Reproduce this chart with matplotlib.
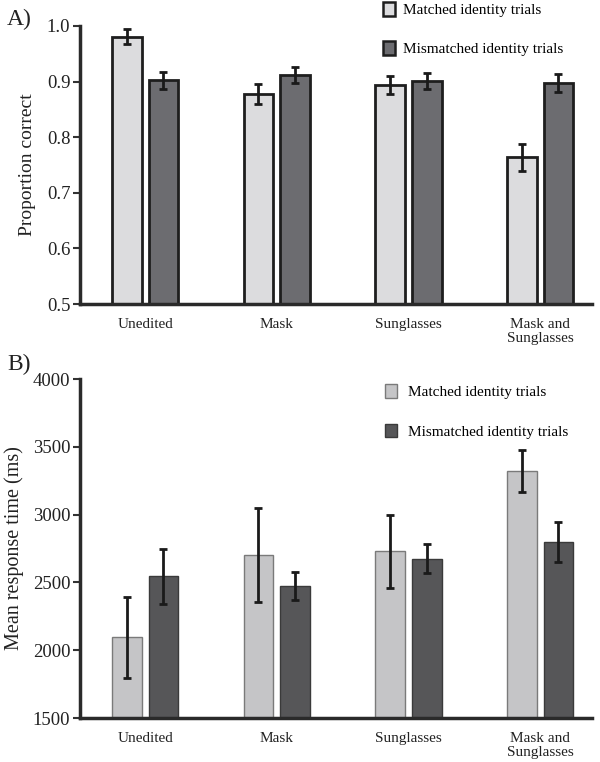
import matplotlib
matplotlib.use("Agg")
import matplotlib.pyplot as plt
from matplotlib.patches import Patch
import numpy as np

plt.rcParams['font.family'] = ['Liberation Serif', 'DejaVu Serif']

categories = ["Unedited", "Mask", "Sunglasses", "Mask and\nSunglasses"]
series_names = ["Matched identity trials", "Mismatched identity trials"]

acc_matched = [0.981, 0.878, 0.894, 0.764]
acc_matched_err = [0.014, 0.018, 0.016, 0.024]
acc_mismatched = [0.902, 0.912, 0.901, 0.897]
acc_mismatched_err = [0.015, 0.015, 0.015, 0.016]

rt_matched = [2094, 2702, 2729, 3325]
rt_matched_err = [298, 348, 270, 155]
rt_mismatched = [2544, 2473, 2675, 2798]
rt_mismatched_err = [200, 102, 107, 145]

acc_ticks = [0.5, 0.6, 0.7, 0.8, 0.9, 1.0]
rt_ticks = [1500, 2000, 2500, 3000, 3500, 4000]

fig = plt.figure(figsize=(6.0, 7.62), dpi=100)
axA = fig.add_axes([0.1333, 0.601, 0.8537, 0.3649])
axB = fig.add_axes([0.1333, 0.0577, 0.8537, 0.4449])

x = np.arange(len(categories))
w = 0.225
off = 0.139

def style(ax, ticks, ylim, fmt):
    ax.set_xlim(-0.494, 3.395)
    ax.set_ylim(*ylim)
    ax.set_yticks(ticks)
    ax.set_yticklabels([fmt(t) for t in ticks], fontsize=13.5, color='#222222')
    ax.set_xticks(x)
    ax.set_xticklabels(categories, fontsize=11, linespacing=1.15, color='#222222')
    ax.tick_params(axis='x', length=0, pad=10)
    ax.tick_params(axis='y', length=5, width=1.5, color='#333333', pad=2)
    for s in ['top', 'right']:
        ax.spines[s].set_visible(False)
    for s in ['left', 'bottom']:
        ax.spines[s].set_linewidth(2.5)
        ax.spines[s].set_color('#2a2a2a')

# Panel A
ekw = dict(ecolor='#1a1a1a', elinewidth=2, capsize=3, capthick=2)
axA.bar(x - off, acc_matched, w, bottom=0, color='#dcdcde', edgecolor='#1e1e1e', linewidth=2,
        yerr=acc_matched_err, error_kw=ekw, zorder=2)
axA.bar(x + off, acc_mismatched, w, bottom=0, color='#6c6c70', edgecolor='#1e1e1e', linewidth=2,
        yerr=acc_mismatched_err, error_kw=ekw, zorder=2)
style(axA, acc_ticks, (0.5, 1.0), lambda t: f"{t:.1f}")
axA.set_ylabel("Proportion correct", fontsize=14, labelpad=8, color='#222222')
hA = [Patch(facecolor='#dcdcde', edgecolor='#1e1e1e', linewidth=1.8),
      Patch(facecolor='#6c6c70', edgecolor='#1e1e1e', linewidth=1.8)]
fig.legend(hA, series_names, loc='upper left', bbox_to_anchor=(0.615, 1.015), frameon=False,
           fontsize=11, labelspacing=1.55, handlelength=0.8, handleheight=1.0, handletextpad=0.5)
fig.text(0.012, 0.989, "A)", fontsize=17, va='top', ha='left', color='#222222')

# Panel B
ekwB = dict(ecolor='#1a1a1a', elinewidth=2, capsize=3, capthick=2)
axB.bar(x - off, rt_matched, w, bottom=0, color='#c5c5c7', edgecolor='#7a7a7a', linewidth=1,
        yerr=rt_matched_err, error_kw=ekwB, zorder=2)
axB.bar(x + off, rt_mismatched, w, bottom=0, color='#565658', edgecolor='#3a3a3a', linewidth=1,
        yerr=rt_mismatched_err, error_kw=ekwB, zorder=2)
style(axB, rt_ticks, (1500, 4000), lambda t: f"{t:d}")
axB.set_ylabel("Mean response time (ms)", fontsize=14.5, labelpad=6, color='#222222')
hB = [Patch(facecolor='#c5c5c7', edgecolor='#7a7a7a', linewidth=1),
      Patch(facecolor='#565658', edgecolor='#3a3a3a', linewidth=1)]
fig.legend(hB, series_names, loc='upper left', bbox_to_anchor=(0.618, 0.514), frameon=False,
           fontsize=11, labelspacing=1.6, handlelength=0.8, handleheight=1.0, handletextpad=0.75)
fig.text(0.012, 0.536, "B)", fontsize=17, va='top', ha='left', color='#222222')

fig.savefig("out.png", dpi=100)
